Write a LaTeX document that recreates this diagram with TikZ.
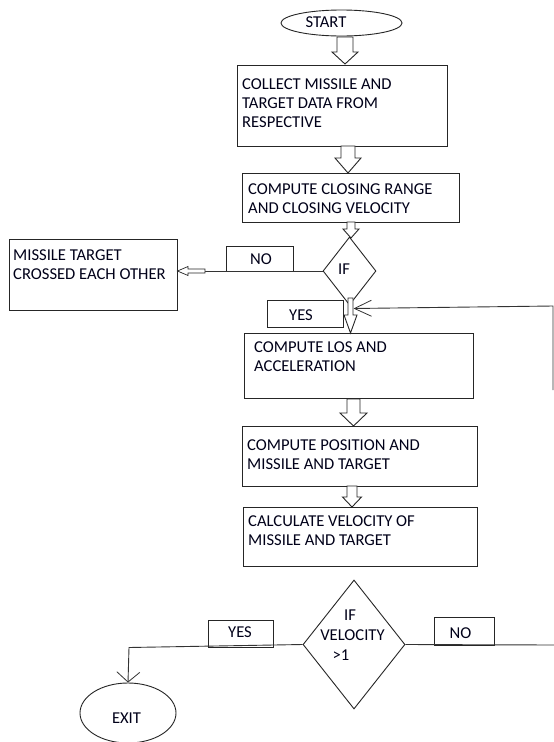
\documentclass[tikz,border=0pt]{standalone}
\usepackage{fontspec}
\setmainfont{Carlito}
\usetikzlibrary{shapes.geometric,arrows.meta}
\newcommand\bdown[6]{% c, top, headstart, tip, shaft half width, head half width
  \draw[blk,fill=white] (#1-#5,#2) -- (#1+#5,#2) -- (#1+#5,#3) -- (#1+#6,#3) -- (#1,#4) -- (#1-#6,#3) -- (#1-#5,#3) -- cycle;}
\begin{document}
\begin{tikzpicture}[x=1pt,y=-1pt,
  blk/.style={draw=black!85,line width=0.9pt},
  box/.style={blk,rectangle,inner sep=0pt},
  txt/.style={inner sep=0pt,anchor=base west,align=left,text=black!90!blue,font=\fontsize{16.6}{19}\selectfont},
  ctxt/.style={inner sep=0pt,anchor=base,text=black!90!blue,font=\fontsize{16.6}{19}\selectfont},
  line/.style={draw=black!80,line width=0.9pt}]
\fill[white] (0,0) rectangle (554,742);
\useasboundingbox (0,0) rectangle (554,742);

% start
\node[blk,ellipse,minimum width=121pt,minimum height=26pt,inner sep=0pt] (start) at (341.5,23) {};
\node[ctxt] (tstart) at (326,27) {START};
\bdown{345}{37}{52}{64}{8}{13}

% box 1
\node[box,minimum width=210pt,minimum height=81pt] (b1) at (342,105.5) {};
\node[txt] (t1) at (242,127) {COLLECT MISSILE AND\\TARGET DATA FROM\\RESPECTIVE};
\bdown{348}{146}{158}{173}{7}{13}

% box 2
\node[box,minimum width=217pt,minimum height=49pt] (b2) at (350.5,197.5) {};
\node[txt] (t2) at (248,213) {COMPUTE CLOSING RANGE\\AND CLOSING VELOCITY};
\bdown{351}{222}{229}{238}{4}{8}

% IF diamond
\node[blk,diamond,minimum width=53pt,minimum height=68pt,inner sep=0pt] (if1) at (349.5,271) {};
\node[ctxt] (tif1) at (344,274) {IF};

% NO box (upper)
\node[box,minimum width=67pt,minimum height=25pt] (no1) at (259.5,258.5) {};
\node[ctxt] (tno1) at (261,264) {NO};

% missile target crossed
\node[box,minimum width=168pt,minimum height=71pt] (mt) at (93,274.5) {};
\node[txt] (tmt) at (13,279) {MISSILE TARGET\\CROSSED EACH OTHER};

% left small block arrow
\coordinate (la) at (205,271);
\draw[line] (if1.west) -- (la);
\draw[blk,line width=0.7pt,fill=white] (205,269) -- (188,269) -- (188,266.5) -- (mt.east |- 0,271) -- (188,275.5) -- (188,273) -- (205,273) -- cycle;

% YES box upper
\node[box,minimum width=76pt,minimum height=27pt] (yes1) at (305,313.5) {};
\node[ctxt] (tyes1) at (301,320) {YES};

% arrow under IF
\bdown{350.5}{298}{315}{333}{2.5}{6.5}

% box 3
\node[box,minimum width=229pt,minimum height=65pt] (b3) at (358.5,366) {};
\node[txt] (t3) at (254,371) {COMPUTE LOS AND\\ACCELERATION};

% return loop
\coordinate (r1) at (553,390);
\coordinate (r2) at (553,306);
\draw[line,-{Straight Barb[length=17pt,width=16pt,line width=0.8pt]}] (r1) -- (r2) -- (353.5,308.5);

\bdown{353.5}{399}{413}{426}{6.5}{13.5}

% box 4
\node[box,minimum width=235pt,minimum height=60pt] (b4) at (359.5,456) {};
\node[txt] (t4) at (247,469) {COMPUTE POSITION AND\\MISSILE AND TARGET};

\bdown{352}{486}{497}{507}{5}{9.5}

% box 5
\node[box,minimum width=234pt,minimum height=59pt] (b5) at (360,536.5) {};
\node[txt] (t5) at (248,545) {CALCULATE VELOCITY OF\\MISSILE AND TARGET};

% IF velocity diamond
\node[blk,diamond,minimum width=102pt,minimum height=129pt,inner sep=0pt] (if2) at (354,644.5) {};
\node[ctxt] (tif2a) at (350,620) {IF};
\node[ctxt] (tif2b) at (352.5,640) {VELOCITY};
\node[ctxt] (tif2c) at (341,660) {>1};

% YES box lower
\node[box,minimum width=65pt,minimum height=27pt] (yes2) at (240.5,633.5) {};
\node[ctxt] (tyes2) at (240,637) {YES};

% NO box lower
\node[box,minimum width=60pt,minimum height=28pt] (no2) at (464,631) {};
\node[ctxt] (tno2) at (460.5,638) {NO};

% exit
\node[blk,ellipse,minimum width=96pt,minimum height=60pt,inner sep=0pt] (exit) at (128,713) {};
\node[ctxt] (texit) at (126.5,723) {EXIT};

\coordinate (c1) at (129,647.5);
\draw[line,-{Straight Barb[length=10pt,width=23pt,line width=0.8pt]}] (if2.west) -- (c1) -- (exit.north);
\coordinate (c2) at (554,645);
\draw[line] (if2.east) -- (c2);
\end{tikzpicture}
\end{document}
